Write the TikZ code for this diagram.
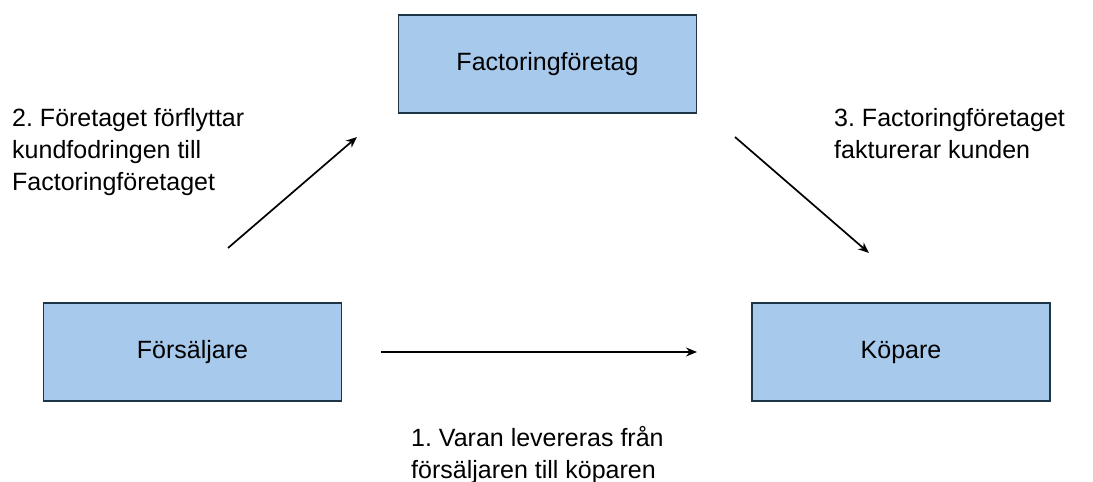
\documentclass[tikz,border=0pt]{standalone}
\usepackage{fontspec}
\setmainfont{Liberation Sans}
\frenchspacing
\usetikzlibrary{positioning}
\usetikzlibrary{arrows.meta}
\definecolor{boxfill}{HTML}{A6C9EC}
\definecolor{boxline}{HTML}{1E3447}

\begin{document}
\begin{tikzpicture}[
        x=1pt, y=-1pt,
        node/.style={draw=boxline, fill=boxfill, line width=1.8pt, align=center, minimum width=298pt, minimum height=98pt, font=\fontsize{25}{32}\selectfont},
        label/.style={align=left, inner sep=0pt, anchor=north west, font=\fontsize{25}{32}\selectfont},
        arrow/.style={line width=1.7pt, -{Stealth[length=11pt, width=9pt]}}
    ]
        \useasboundingbox (0,0) rectangle (1093,482);

        \node[node] (fac) at (547.5,64) {Factoringföretag};
        \node[node] (sel) at (192.5,352) {Försäljare};
        \node[node] (buy) at (901,352) {Köpare};

        \coordinate (a1) at (381,352);
        \coordinate (b1) at (697,352);
        \coordinate (a2) at (228,248);
        \coordinate (b2) at (357,137);
        \coordinate (a3) at (735,137);
        \coordinate (b3) at (869,253);

        \draw[arrow] (a1) -- (b1);
        \draw[arrow] (a2) -- (b2);
        \draw[arrow] (a3) -- (b3);

        \node[label] (t1) at (411,426) {1. Varan levereras från\\försäljaren till köparen};
        \node[label] (t2) at (12,108) {2. Företaget förflyttar\\kundfodringen till\\Factoringföretaget};
        \node[label] (t3) at (834,108) {3. Factoringföretaget\\fakturerar kunden};
    \end{tikzpicture}
\end{document}
